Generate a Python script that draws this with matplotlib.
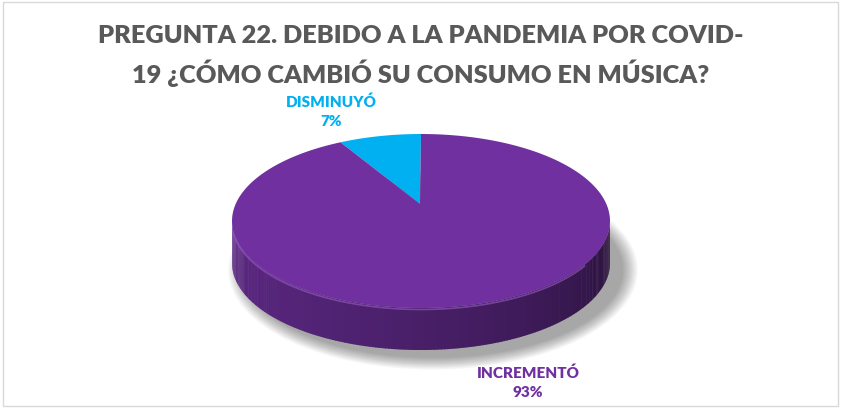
import numpy as np
import matplotlib.pyplot as plt
from matplotlib.patches import Polygon, Ellipse, Rectangle
from matplotlib.colors import to_rgb

# --- Data ---
categories = ["DISMINUYÓ", "INCREMENTÓ"]
values = [7, 93]
colors = ["#00B0F0", "#7030A0"]
title = "PREGUNTA 22. DEBIDO A LA PANDEMIA POR COVID-\n19 ¿CÓMO CAMBIÓ SU CONSUMO EN MÚSICA?"

# --- Pie geometry (pixel space) ---
CX, CY = 421, 221
RX, RY = 189, 87
DEPTH = 42
APEX_LIFT = 17  # perspective: centre point looks higher than ellipse centre

plt.rcParams['font.family'] = ['Lato', 'DejaVu Sans']

fig = plt.figure(figsize=(8.42, 4.08), dpi=100)
ax = fig.add_axes([0, 0, 1, 1])
ax.set_xlim(0, 842)
ax.set_ylim(408, 0)
ax.axis('off')

# chart frame
ax.add_patch(Rectangle((3, 2), 835, 404, fill=False, edgecolor='#D9D9D9', lw=1.0))


def rim(theta_deg, dy=0):
    t = np.radians(theta_deg)
    return CX + RX * np.cos(t), CY - RY * np.sin(t) + dy


def shade(c, f):
    r, g, b = to_rgb(c)
    return (r * f, g * f, b * f)


# soft shadow under the disc
for i in range(16):
    grow = 16 - i
    ax.add_patch(Ellipse((CX + 12, CY + DEPTH + 7), 2 * (RX + grow), 2 * (RY + grow * 0.8),
                         facecolor='#000000', alpha=0.022, edgecolor='none', zorder=1))

# side band, front half only, darker towards the right
angles = np.cumsum([0] + values) / sum(values) * 360 + 90
n_strips = 180
for k in range(n_strips):
    a0 = 180 + k * 180 / n_strips
    a1 = 180 + (k + 1) * 180 / n_strips + 0.3
    mid = (a0 + a1) / 2
    # find which slice owns this angle (angles run counterclockwise from 90)
    m = mid if mid >= 90 else mid + 360
    idx = int(np.searchsorted(angles, m, side='right') - 1)
    idx = min(max(idx, 0), len(values) - 1)
    frac = (mid - 180) / 180
    f = 0.82 - 0.45 * frac ** 1.4
    ts = np.linspace(a0, a1, 4)
    top = [rim(t) for t in ts]
    bot = [rim(t, DEPTH) for t in ts[::-1]]
    ax.add_patch(Polygon(top + bot, closed=True, facecolor=shade(colors[idx], f),
                         edgecolor='none', zorder=2))

# thin highlight at the top edge of the band
ts = np.linspace(185, 330, 200)
hx, hy = zip(*[rim(t, 1.5) for t in ts])
ax.plot(hx, hy, color='#9A5CC8', lw=1.2, alpha=0.6, zorder=3, solid_capstyle='round')

# top face wedges
apex = (CX - 1, CY - APEX_LIFT)
for i, v in enumerate(values):
    ts = np.linspace(angles[i], angles[i + 1], 200)
    pts = [apex] + [rim(t) for t in ts]
    ax.add_patch(Polygon(pts, closed=True, facecolor=colors[i], edgecolor='none', zorder=4))

# title
ax.text(421, 56, title, ha='center', va='center', fontsize=18.3, fontweight='heavy',
        color='#595959', linespacing=1.5, zorder=5)

# data labels
total = sum(values)
label_pos = [(331, 111), (528, 382)]
for (x, y), name, v, c in zip(label_pos, categories, values, colors):
    pct = f"{round(v / total * 100)}%"
    ax.text(x, y, f"{name}\n{pct}", ha='center', va='center', fontsize=11,
            fontweight='heavy', color=c, linespacing=1.55, zorder=5)

fig.savefig("out.png", dpi=100)
